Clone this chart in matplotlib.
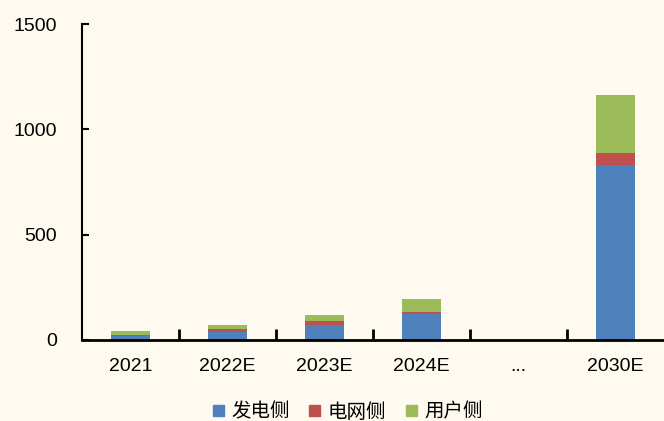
import numpy as np
import matplotlib.pyplot as plt
from matplotlib.patches import Patch

categories = ["2021", "2022E", "2023E", "2024E", "...", "2030E"]
gen_side = [20, 40, 70, 125, 0, 830]
grid_side = [3, 10, 20, 10, 0, 60]
user_side = [18, 20, 28, 60, 0, 275]
series_names = ["发电侧", "电网侧", "用户侧"]
colors = ["#4F81BD", "#C0504D", "#9BBB59"]
BG = "#FEFAF0"

plt.rcParams["font.family"] = ["Liberation Sans", "Noto Sans CJK SC", "DejaVu Sans"]


def main():
    fig = plt.figure(figsize=(6.64, 4.21), dpi=100, facecolor=BG)
    ax = fig.add_axes([82 / 664, 81 / 421, 1 - 82 / 664, 316 / 421], facecolor=BG)

    x = np.arange(len(categories))
    gen = np.array(gen_side)
    grid = np.array(grid_side)
    user = np.array(user_side)
    w = 0.41
    ax.bar(x, gen, w, color=colors[0])
    ax.bar(x, grid, w, bottom=gen, color=colors[1])
    ax.bar(x, user, w, bottom=gen + grid, color=colors[2])

    ax.set_xlim(-0.5, len(categories) - 0.5)
    ax.set_ylim(0, 1500)
    ax.set_yticks([0, 500, 1000, 1500])
    ax.set_xticks(x)
    ax.set_xticklabels(categories)
    ax.set_xticks(x[:-1] + 0.5, minor=True)
    ax.tick_params(axis="x", which="major", length=0, pad=13, labelsize=14)
    ax.tick_params(axis="x", which="minor", direction="in", length=8, width=2)
    ax.tick_params(axis="y", direction="in", length=5, width=1.5, pad=18, labelsize=14)

    for s in ["top", "right"]:
        ax.spines[s].set_visible(False)
    ax.spines["left"].set_linewidth(1.5)
    ax.spines["bottom"].set_linewidth(2)

    handles = [Patch(color=c) for c in colors]
    fig.legend(handles, series_names, loc="center", bbox_to_anchor=(0.524, 9 / 421),
               ncol=3, frameon=False, handlelength=0.55, handleheight=0.55,
               handletextpad=0.4, columnspacing=1.0,
               prop={"family": ["Noto Sans CJK SC"], "size": 14})

    fig.savefig("out.png", dpi=100, facecolor=BG)


if __name__ == "__main__":
    main()
